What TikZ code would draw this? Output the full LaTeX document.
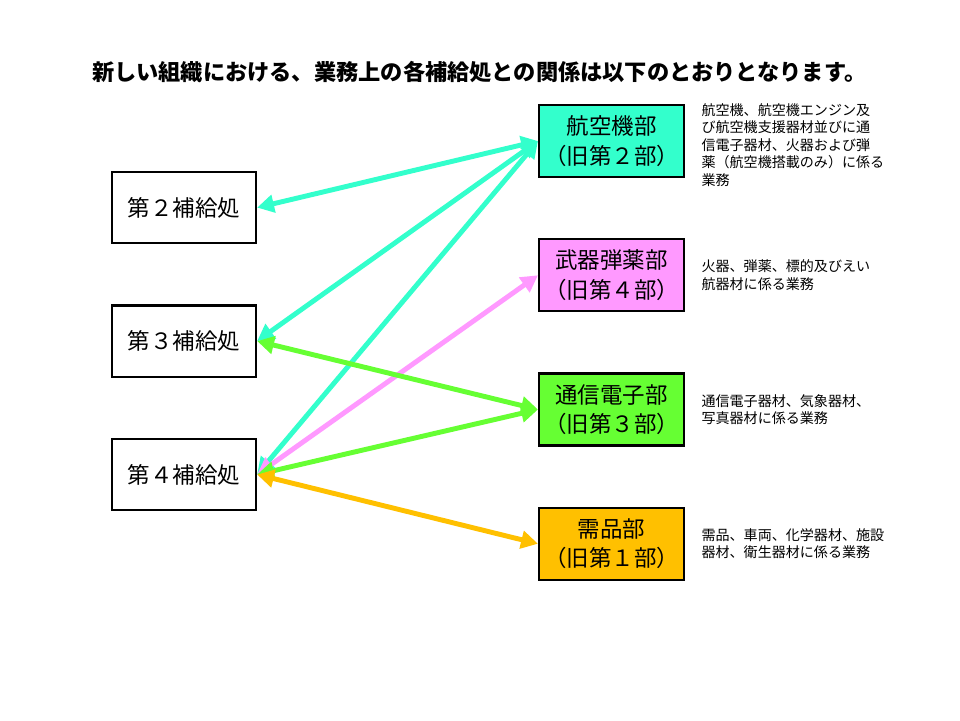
\documentclass[tikz,border=0pt]{standalone}
\usepackage{fontspec}
\setmainfont{Noto Sans CJK JP}
\usetikzlibrary{arrows.meta,positioning}
\definecolor{koku}{RGB}{51,255,204}
\definecolor{buki}{RGB}{255,153,255}
\definecolor{tsushin}{RGB}{102,255,51}
\definecolor{juhin}{RGB}{255,192,0}

\begin{document}
\begin{tikzpicture}[
  node distance=1.5cm and 0.4cm,
  depot/.style={rectangle, draw, line width=1.6pt, minimum width=3.6cm, minimum height=1.78cm, inner sep=0pt, font=\fontsize{16}{21}\selectfont},
  dept/.style={depot, align=center, minimum width=3.625cm, minimum height=1.8cm},
  note/.style={align=left, inner sep=0pt, font=\fontsize{10}{12.4}\selectfont},
  link/.style={{Triangle[length=12pt,width=12.5pt]}-{Triangle[length=12pt,width=12.5pt]}, line width=3.5pt}
]
\useasboundingbox (0,0) rectangle (24,-18);
\node[font=\bfseries\fontsize{15.8}{18}\selectfont] (title) at (11.98,-1.8) {新しい組織における、業務上の各補給処との関係は以下のとおりとなります。};

% supply depots
\node[depot] (d2) at (4.6,-5.19) {第２補給処};
\node[depot, below=of d2] (d3) {第３補給処};
\node[depot, below=of d3] (d4) {第４補給処};

% departments
\node[dept, fill=koku] (air) at (15.29,-3.525) {航空機部\\（旧第２部）};
\node[dept, fill=buki, below=of air] (arm) {武器弾薬部\\（旧第４部）};
\node[dept, fill=tsushin, below=of arm] (com) {通信電子部\\（旧第３部）};
\node[dept, fill=juhin, below=of com] (sup) {需品部\\（旧第１部）};

\node[note, right=of air, yshift=-0.1cm] (airnote) {航空機、航空機エンジン及\\び航空機支援器材並びに通\\信電子器材、火器および弾\\薬（航空機搭載のみ）に係る\\業務};
\node[note, right=of arm] (armnote) {火器、弾薬、標的及びえい\\航器材に係る業務};
\node[note, right=of com] (comnote) {通信電子器材、気象器材、\\写真器材に係る業務};
\node[note, right=of sup] (supnote) {需品、車両、化学器材、施設\\器材、衛生器材に係る業務};

\draw[link, koku] (air.west) -- (d2.east);
\draw[link, koku] (air.west) -- (d3.east);
\draw[link, koku] (air.west) -- (d4.east);
\draw[link, buki] (d4.east) -- (arm.west);
\draw[link, tsushin] (d3.east) -- (com.west);
\draw[link, tsushin] (d4.east) -- (com.west);
\draw[link, juhin] (d4.east) -- (sup.west);
\end{tikzpicture}
\end{document}
